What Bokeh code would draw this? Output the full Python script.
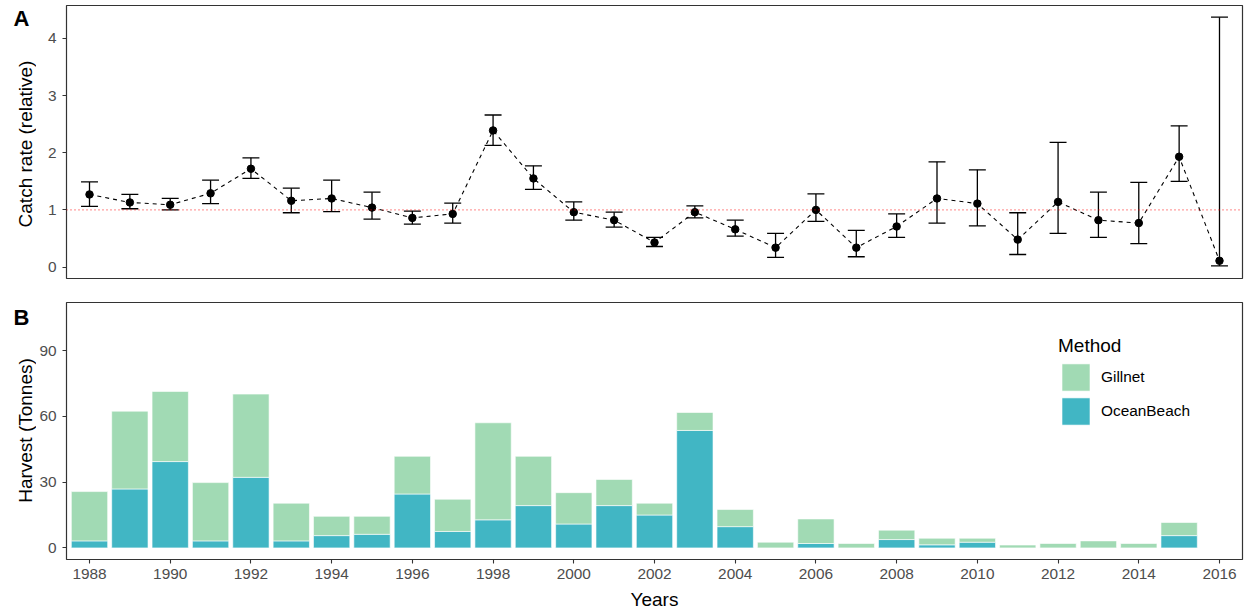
import math

from bokeh.plotting import figure
from bokeh.models import (ColumnDataSource, Range1d, FixedTicker, Span, Legend,
                          LegendItem, Label)
from bokeh.layouts import column, row
from bokeh.embed import file_html
from bokeh.resources import INLINE

# ---- data -------------------------------------------------------------
cpue_years = list(range(1988, 2017))
catch_rate = [1.27, 1.13, 1.09, 1.29, 1.72, 1.16, 1.20, 1.04, 0.86, 0.93,
              2.39, 1.55, 0.96, 0.82, 0.43, 0.96, 0.66, 0.34, 1.00, 0.34,
              0.71, 1.20, 1.11, 0.48, 1.14, 0.82, 0.77, 1.93, 0.11]
ci_low = [1.06, 1.02, 1.00, 1.11, 1.55, 0.95, 0.97, 0.84, 0.75, 0.77,
          2.13, 1.36, 0.82, 0.70, 0.36, 0.86, 0.54, 0.17, 0.80, 0.18,
          0.52, 0.77, 0.72, 0.22, 0.59, 0.52, 0.41, 1.50, 0.02]
ci_high = [1.49, 1.27, 1.20, 1.52, 1.91, 1.38, 1.52, 1.31, 0.98, 1.12,
           2.66, 1.77, 1.14, 0.96, 0.52, 1.07, 0.82, 0.59, 1.28, 0.64,
           0.93, 1.84, 1.70, 0.95, 2.18, 1.31, 1.48, 2.47, 4.37]

harvest_years = list(range(1988, 2016))
ocean_beach = [3.2, 26.9, 39.4, 3.2, 32.2, 3.2, 5.6, 6.2, 24.6, 7.5,
               12.8, 19.3, 10.9, 19.3, 15.0, 53.6, 9.7, 0.0, 2.0, 0.0,
               3.8, 1.4, 2.6, 0.0, 0.0, 0.0, 0.0, 5.6]
gillnet = [22.5, 35.5, 32.0, 26.6, 38.0, 17.2, 8.8, 8.2, 17.2, 14.7,
           44.3, 22.5, 14.3, 11.9, 5.4, 8.2, 7.8, 2.6, 11.2, 2.0,
           4.3, 3.0, 1.8, 1.3, 2.0, 3.2, 2.0, 6.0]
methods = ["Gillnet", "OceanBeach"]
year_ticks = list(range(1988, 2017, 2))

# ---- styling ----------------------------------------------------------
FONT = "Liberation Sans"
TICK_COL = "#4D4D4D"
FRAME_COL = "#333333"
GILL_COL = "#A1DAB4"
OCEAN_COL = "#41B6C4"
X_RANGE = (1987.43, 2016.57)
TAG_W = 36            # width of the strip holding panel tags and y titles
MAIN_W = 1247 - TAG_W


def style(p):
    p.background_fill_color = "white"
    p.border_fill_color = "white"
    p.outline_line_color = FRAME_COL
    p.outline_line_width = 1.2
    p.xgrid.visible = False
    p.ygrid.visible = False
    for ax in p.axis:
        ax.axis_line_color = None
        ax.major_tick_line_color = FRAME_COL
        ax.major_tick_line_width = 1.1
        ax.major_tick_out = 4
        ax.major_tick_in = 0
        ax.minor_tick_line_color = None
        ax.major_label_text_font = FONT
        ax.major_label_text_font_size = "15.4px"
        ax.major_label_text_color = TICK_COL
        ax.axis_label_text_font = FONT
        ax.axis_label_text_font_size = "19px"
        ax.axis_label_text_font_style = "normal"
        ax.axis_label_text_color = "black"


def tag_strip(height, border_top, border_bottom, tag, tag_top, title, title_mid):
    """Narrow strip left of a panel: bold panel tag plus rotated y title.

    The strip's frame is aligned with the neighbouring panel's frame by the
    row layout, so its y range is expressed in pixels from the figure bottom.
    """
    s = figure(width=TAG_W, height=height, output_backend="svg",
               toolbar_location=None, x_range=Range1d(0, TAG_W),
               y_range=Range1d(border_bottom, height - border_top),
               x_axis_location=None, y_axis_location=None, min_border=0,
               min_border_top=border_top, min_border_bottom=border_bottom)
    s.outline_line_color = None
    s.background_fill_color = "white"
    s.border_fill_color = "white"
    s.xgrid.visible = False
    s.ygrid.visible = False
    s.add_layout(Label(x=13, y=height - tag_top, text=tag, text_font=FONT,
                       text_font_size="22px", text_font_style="bold",
                       text_color="black", text_align="left",
                       text_baseline="top"))
    s.add_layout(Label(x=25, y=height - title_mid, text=title, angle=math.pi / 2,
                       text_font=FONT, text_font_size="19px",
                       text_color="black", text_align="center",
                       text_baseline="middle"))
    return s


# ---- panel A: relative catch rate ------------------------------------
pa = figure(width=MAIN_W, height=290, output_backend="svg", toolbar_location=None,
            x_range=Range1d(*X_RANGE), y_range=Range1d(-0.2, 4.575),
            x_axis_location=None, min_border_left=66 - TAG_W, min_border_right=5,
            min_border_top=5, min_border_bottom=12)
style(pa)
pa.yaxis.ticker = FixedTicker(ticks=[0, 1, 2, 3, 4])
pa.yaxis.major_label_standoff = 6

pa.add_layout(Span(location=1, dimension="width", line_color="red",
                   line_alpha=0.75, line_dash="1 3", line_width=1.4))

src_a = ColumnDataSource(dict(
    year=cpue_years, rate=catch_rate, lo=ci_low, hi=ci_high,
    left=[y - 0.21 for y in cpue_years], right=[y + 0.21 for y in cpue_years]))
pa.line("year", "rate", source=src_a, line_color="black", line_width=1.1,
        line_dash="4 4")
pa.segment(x0="year", y0="lo", x1="year", y1="hi", source=src_a,
           line_color="black", line_width=1.3)
pa.segment(x0="left", y0="hi", x1="right", y1="hi", source=src_a,
           line_color="black", line_width=1.3)
pa.segment(x0="left", y0="lo", x1="right", y1="lo", source=src_a,
           line_color="black", line_width=1.3)
pa.scatter("year", "rate", source=src_a, size=7.5, color="black")

tag_a = tag_strip(290, 5, 12, "A", 5, "Catch rate (relative)", 143.5)

# ---- panel B: harvest by method --------------------------------------
pb = figure(width=MAIN_W, height=325, output_backend="svg", toolbar_location=None,
            x_range=Range1d(*X_RANGE), y_range=Range1d(-5.3, 112.0),
            min_border_left=66 - TAG_W, min_border_right=5, min_border_top=12,
            min_border_bottom=56)
style(pb)
pb.yaxis.ticker = FixedTicker(ticks=[0, 30, 60, 90])
pb.yaxis.major_label_standoff = 6
pb.xaxis.ticker = FixedTicker(ticks=year_ticks)
pb.xaxis.axis_label = "Years"
pb.xaxis.major_label_standoff = 5
pb.xaxis.axis_label_standoff = 7

src_b = ColumnDataSource(dict(year=harvest_years, OceanBeach=ocean_beach,
                              Gillnet=gillnet))
bars = pb.vbar_stack(["OceanBeach", "Gillnet"], x="year", width=0.9,
                     source=src_b, fill_color=[OCEAN_COL, GILL_COL],
                     line_color="white", line_width=0.6)
r_ocean, r_gill = bars

legend = Legend(items=[LegendItem(label=methods[0], renderers=[r_gill]),
                       LegendItem(label=methods[1], renderers=[r_ocean])],
                location=(992, 131), title="Method",
                title_text_font=FONT, title_text_font_size="19px",
                title_text_font_style="normal",
                title_text_color="black", title_standoff=3,
                label_text_font=FONT, label_text_font_size="15.4px",
                label_text_color="black", label_standoff=8,
                glyph_width=35, glyph_height=34, label_height=34,
                spacing=-4, padding=0, margin=0,
                border_line_color=None, background_fill_alpha=0)
pb.add_layout(legend)

tag_b = tag_strip(325, 12, 56, "B", 14, "Harvest (Tonnes)", 430.0 - 290)

layout = column(row(tag_a, pa, spacing=0), row(tag_b, pb, spacing=0), spacing=0)
open("out.html", "w").write(file_html(layout, INLINE))
